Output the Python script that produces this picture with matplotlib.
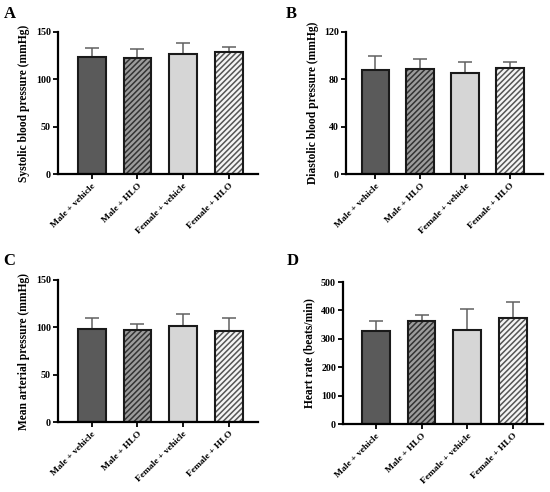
import matplotlib
matplotlib.use("Agg")
import matplotlib.pyplot as plt
import numpy as np

plt.rcParams['font.family'] = ['Liberation Serif', 'DejaVu Serif']
plt.rcParams['font.weight'] = 'bold'
plt.rcParams['hatch.linewidth'] = 1.1

categories = ["Male + vehicle", "Male + HLO", "Female + vehicle", "Female + HLO"]

sbp_mean = [124, 123, 127, 128.5]
sbp_top = [133.5, 132.5, 138.5, 134.5]
dbp_mean = [87.7, 88.5, 85.2, 89.4]
dbp_top = [99.5, 97.2, 95, 94.7]
map_mean = [98.7, 97.3, 101.9, 96.6]
map_top = [110.3, 104, 113.8, 109.6]
hr_mean = [328, 362, 331, 374]
hr_top = [363.5, 383.5, 406, 429]

panels = [
    ("A", sbp_mean, sbp_top, "Systolic blood pressure (mmHg)", [0, 50, 100, 150], 150),
    ("B", dbp_mean, dbp_top, "Diastolic blood pressure (mmHg)", [0, 40, 80, 120], 120),
    ("C", map_mean, map_top, "Mean arterial pressure (mmHg)", [0, 50, 100, 150], 150),
    ("D", hr_mean, hr_top, "Heart rate (beats/min)", [0, 100, 200, 300, 400, 500], 500),
]

W, H = 550, 492
rects = [
    (58, 32, 258, 174, -0.74),
    (346, 32, 543, 174, -0.65),
    (58, 280, 258, 422, -0.74),
    (343, 282, 543, 424, -0.72),
]
label_pos = [(4, 14), (286, 14), (3, 261), (287, 261)]

faces = ['#5a5a5a', '#9c9c9c', '#d6d6d6', '#f4f4f4']
hatches = [None, '//////', None, '//////']
hatch_cols = [None, '#333333', None, '#555555']

fig = plt.figure(figsize=(5.5, 4.92), dpi=100)

for (label, mean, top, ylab, ticks, ymax), (l, t, r, b, xl), (lx, ly) in zip(panels, rects, label_pos):
    ax = fig.add_axes([l / W, 1 - b / H, (r - l) / W, (b - t) / H])
    x = np.arange(len(categories))
    mean = np.array(mean)
    err = np.array(top) - mean
    ax.errorbar(x, mean, yerr=[np.zeros_like(err), err], fmt='none',
                ecolor='#606060', elinewidth=1.1, capsize=5.2, capthick=1.1, zorder=1)
    for i in range(len(x)):
        bar = ax.bar(x[i], mean[i], width=0.61, color=faces[i], edgecolor='#1a1a1a',
                     linewidth=1.5, zorder=2)
        if hatches[i]:
            bar[0].set_hatch(hatches[i])
            bar[0].set_facecolor(faces[i])
            bar[0]._hatch_color = matplotlib.colors.to_rgba(hatch_cols[i])
    ax.set_xlim(xl, xl + 4.38)
    ax.set_ylim(0, ymax)
    ax.set_yticks(ticks)
    ax.set_xticks(x)
    ax.set_xticklabels(categories, rotation=45, ha='right', rotation_mode='anchor',
                       fontsize=6.8, fontweight='bold')
    ax.tick_params(axis='y', labelsize=7.2, width=1.3, length=3.5, pad=1.5)
    ax.tick_params(axis='x', width=1.3, length=3.5, pad=2)
    for lab in ax.get_yticklabels():
        lab.set_fontweight('bold')
    ax.set_ylabel(ylab, fontsize=8.3, fontweight='bold', labelpad=4)
    for s in ['top', 'right']:
        ax.spines[s].set_visible(False)
    for s in ['left', 'bottom']:
        ax.spines[s].set_linewidth(1.6)
    fig.text(lx / W, 1 - ly / H, label, fontsize=12, fontweight='bold',
             ha='left', va='center')

fig.savefig("out.png", dpi=100)
